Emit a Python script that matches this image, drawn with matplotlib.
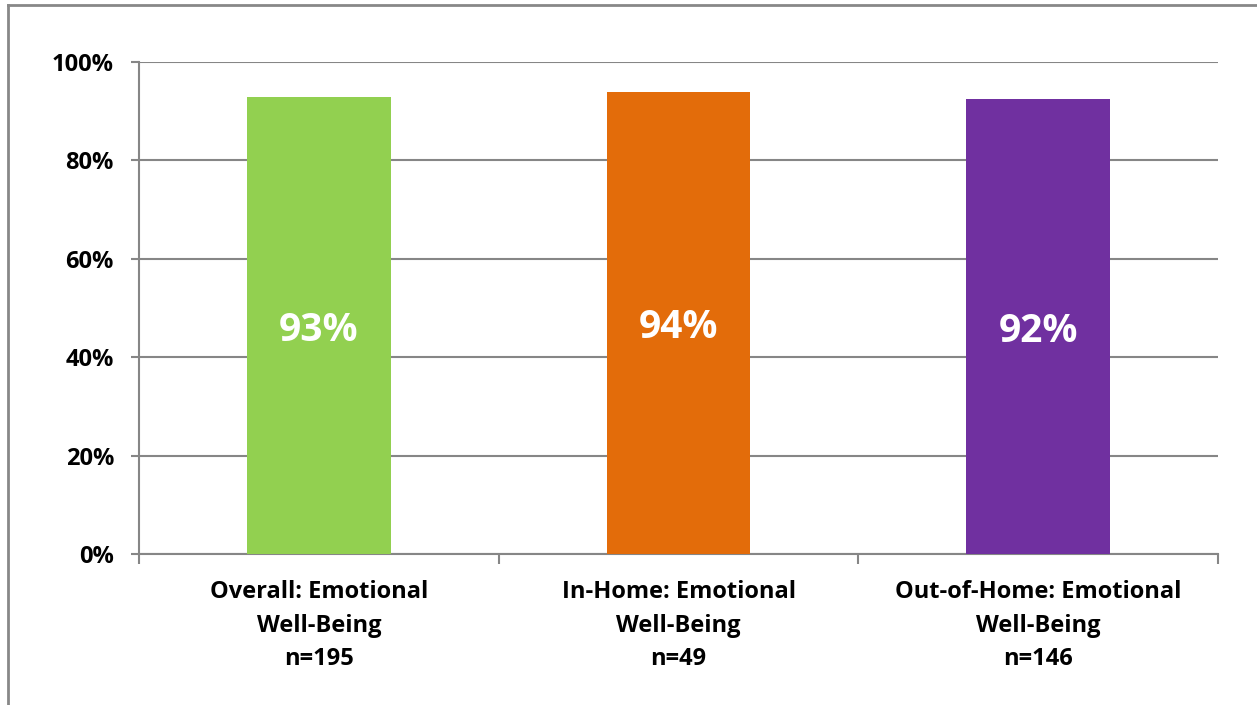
import matplotlib
matplotlib.use("Agg")
import matplotlib.pyplot as plt
from matplotlib.lines import Line2D

categories = ["Overall: Emotional\nWell-Being\nn=195",
              "In-Home: Emotional\nWell-Being\nn=49",
              "Out-of-Home: Emotional\nWell-Being\nn=146"]
values = [92.9, 93.9, 92.5]
value_labels = ["93%", "94%", "92%"]
colors = ["#92D050", "#E36C0A", "#7030A0"]
yticks = [0, 20, 40, 60, 80, 100]
ytick_labels = ["0%", "20%", "40%", "60%", "80%", "100%"]

plt.rcParams['font.family'] = ['Open Sans', 'DejaVu Sans']
W, H = 1257, 705
fig = plt.figure(figsize=(W / 100, H / 100), dpi=100)
ax = fig.add_axes([139 / W, 1 - 554 / H, (1218 - 139) / W, (554 - 62) / H])

x = list(range(len(categories)))
bars = ax.bar(x, values, width=0.4, color=colors, zorder=3)
for xi, v, lab in zip(x, values, value_labels):
    ax.text(xi, v * 0.49, lab, ha="center", va="center", color="white",
            fontsize=28, fontweight="bold", zorder=4)

ax.set_xlim(-0.5, len(categories) - 0.5)
ax.set_ylim(0, 100)
ax.set_yticks(yticks)
ax.set_yticklabels(ytick_labels, fontsize=17, fontweight="bold")
ax.yaxis.grid(True, color="#868686", linewidth=1.5, zorder=0)
ax.set_axisbelow(True)

ax.set_xticks(x)
ax.set_xticklabels(categories, fontsize=17, fontweight="bold", linespacing=1.52)
ax.tick_params(axis="x", which="major", length=0, pad=19)
ax.set_xticks([-0.5, 0.5, 1.5, 2.5], minor=True)
ax.tick_params(axis="x", which="minor", length=7, width=1.5, color="#868686", direction="out")
ax.tick_params(axis="y", length=6, width=1.5, color="#868686", pad=12)

for s in ["top", "right"]:
    ax.spines[s].set_visible(False)
for s in ["left", "bottom"]:
    ax.spines[s].set_color("#868686")
    ax.spines[s].set_linewidth(1.5)

# outer chart border (top and left)
bx = 8 / W
by = 1 - 5 / H
fig.add_artist(Line2D([bx, 1], [by, by], transform=fig.transFigure, color="#888888", linewidth=2))
fig.add_artist(Line2D([bx, bx], [0, by], transform=fig.transFigure, color="#888888", linewidth=2))

fig.savefig("out.png", dpi=100)
